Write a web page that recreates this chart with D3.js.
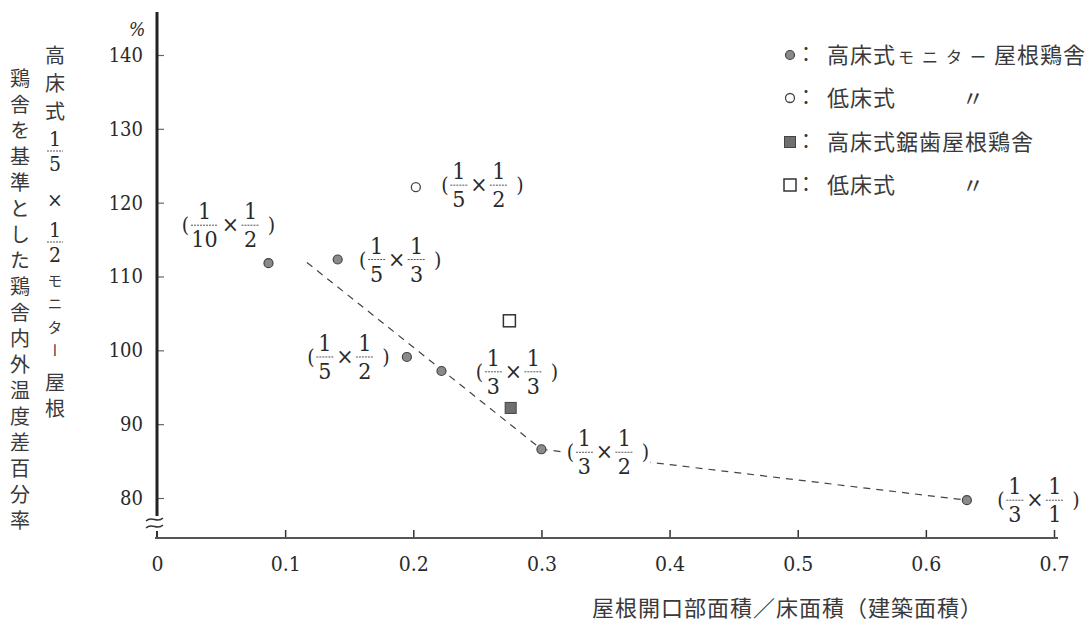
<!DOCTYPE html>
<html><head><meta charset="utf-8">
<script src="https://cdn.jsdelivr.net/npm/d3@7"></script>
<style>
body{margin:0;background:#fff;}
svg{display:block;background:#fff;}
</style></head><body>
<svg id="c" width="1085" height="623"></svg>
<script>
// ---- data ----
const xTicks = [0, 0.1, 0.2, 0.3, 0.4, 0.5, 0.6, 0.7];
const xTickLabels = ["0", "0.1", "0.2", "0.3", "0.4", "0.5", "0.6", "0.7"];
const yTicks = [80, 90, 100, 110, 120, 130, 140];
const highMonitorX = [0.087, 0.141, 0.195, 0.222, 0.300, 0.632];
const highMonitorY = [111.8, 112.3, 99.1, 97.2, 86.6, 79.7];
const lowMonitorX = [0.202];
const lowMonitorY = [122.1];
const highSawX = [0.276];
const highSawY = [92.2];
const lowSawX = [0.275];
const lowSawY = [104.0];
const trendX = [0.117, 0.300, 0.632];
const trendY = [111.9, 86.6, 79.7];
const labelFracs = [["1","10","1","2"],["1","5","1","3"],["1","5","1","2"],["1","3","1","3"],["1","3","1","2"],["1","3","1","1"],["1","5","1","2"]];
const legendSymbols = ["dot", "circle", "fsquare", "square"];
const legendTexts = ["高床式モニター屋根鶏舎", "低床式", "高床式鋸歯屋根鶏舎", "低床式"];
const xTitle = "屋根開口部面積／床面積（建築面積）";

const SERIF = "'DejaVu Serif Condensed', 'DejaVu Serif', serif";
const JP = "'Noto Sans CJK JP', 'Noto Sans CJK SC', sans-serif";

// ---- scales ----
const svg = d3.select("#c");
const x = d3.scaleLinear().domain([0, 0.7]).range([157, 1054]);
const y = d3.scaleLinear().domain([80, 140]).range([498, 55]);
const X0 = x(0), Y0 = 538;

function ntext(g, xx, yy, s, size, anchor) {
  return g.append("text").attr("x", xx).attr("y", yy).attr("text-anchor", anchor || "middle")
    .style("font-family", SERIF).style("font-stretch", "condensed")
    .style("font-size", size + "px").style("fill", "#2a2a2a").text(s);
}
function jtext(g, xx, yy, s, size) {
  return g.append("text").attr("x", xx).attr("y", yy)
    .style("font-family", JP).style("font-size", size + "px").style("fill", "#3a3a3a").text(s);
}

// ---- axes ----
const yAx = svg.append("g").attr("transform", `translate(${X0},0)`)
  .call(d3.axisLeft(y).tickValues(yTicks).tickSize(-7).tickPadding(14));
yAx.select(".domain").remove();
yAx.selectAll(".tick line").attr("stroke", "#666").attr("stroke-width", 1.2);
yAx.selectAll(".tick text").style("font-family", SERIF).style("font-stretch", "condensed")
  .style("font-size", "20px").style("fill", "#2a2a2a");
svg.append("line").attr("x1", X0).attr("x2", X0).attr("y1", 12).attr("y2", 516)
  .attr("stroke", "#222").attr("stroke-width", 3);
svg.append("line").attr("x1", X0).attr("x2", X0).attr("y1", 531).attr("y2", Y0)
  .attr("stroke", "#333").attr("stroke-width", 2);
[519, 526].forEach(yy => {
  svg.append("path").attr("d", `M${X0-11},${yy+2} C${X0-5},${yy-4} ${X0},${yy+5} ${X0+6},${yy-1}`)
    .attr("fill", "none").attr("stroke", "#333").attr("stroke-width", 1.3);
});
ntext(svg, 137, 36, "%", 19).style("font-style", "italic");

const xAx = svg.append("g").attr("transform", `translate(0,${Y0})`)
  .call(d3.axisBottom(x).tickValues(xTicks).tickFormat((d, i) => xTickLabels[i]).tickSize(-8).tickPadding(18));
xAx.select(".domain").remove();
xAx.selectAll(".tick line").attr("stroke", "#333").attr("stroke-width", 1.5)
  .filter(d => d === 0).remove();
xAx.selectAll(".tick text").style("font-family", SERIF).style("font-stretch", "condensed")
  .style("font-size", "21px").style("fill", "#2a2a2a");
svg.append("line").attr("x1", X0 - 2).attr("x2", x(0.7) + 4).attr("y1", Y0).attr("y2", Y0)
  .attr("stroke", "#555").attr("stroke-width", 2);

jtext(svg, 592, 616, xTitle, 22).attr("letter-spacing", 1);

// ---- y title (vertical) ----
function vtext(cx, yc, size, ls, str) {
  return jtext(svg, cx, yc - size / 2, str, size).style("writing-mode", "vertical-rl").attr("letter-spacing", ls);
}
const LC = 20, RC = 55;
vtext(LC, 78, 20, 6, "鶏舎を基準とした鶏舎内外温度差百分率");
vtext(RC, 55, 20, 8, "高床式");
function vfrac(cx, bar, n, d) {
  ntext(svg, cx, bar - 5, n, 21);
  svg.append("line").attr("x1", cx - 8).attr("x2", cx + 8).attr("y1", bar).attr("y2", bar)
    .attr("stroke", "#555").attr("stroke-width", 1).attr("stroke-dasharray", "2,1");
  ntext(svg, cx, bar + 20, d, 21);
}
vfrac(RC, 151, "1", "5");
ntext(svg, RC, 207, "×", 21);
vfrac(RC, 242, "1", "2");
vtext(RC, 280, 15, 8.5, "モニター");
vtext(RC, 382, 20, 6, "屋根");

// ---- trend line ----
const line = d3.line().x(d => x(d[0])).y(d => y(d[1]));
svg.append("path").datum(trendX.map((v, i) => [v, trendY[i]])).attr("d", line)
  .attr("fill", "none").attr("stroke", "#444").attr("stroke-width", 1.2).attr("stroke-dasharray", "7,6");

// ---- markers ----
function marker(g, type, cx, cy) {
  if (type === "dot") g.append("circle").attr("cx", cx).attr("cy", cy).attr("r", 4.5)
    .attr("fill", "#8a8a8a").attr("stroke", "#444").attr("stroke-width", 1.2);
  if (type === "circle") g.append("circle").attr("cx", cx).attr("cy", cy).attr("r", 4.5)
    .attr("fill", "#fff").attr("stroke", "#444").attr("stroke-width", 1.3);
  if (type === "fsquare") g.append("rect").attr("x", cx - 5.5).attr("y", cy - 5.5).attr("width", 11).attr("height", 11)
    .attr("fill", "#6f6f6f").attr("stroke", "#444").attr("stroke-width", 1);
  if (type === "square") g.append("rect").attr("x", cx - 6).attr("y", cy - 6).attr("width", 12).attr("height", 12)
    .attr("fill", "#fff").attr("stroke", "#333").attr("stroke-width", 1.5);
}
const pts = svg.append("g");
highMonitorX.forEach((v, i) => marker(pts, "dot", x(v), y(highMonitorY[i])));
lowMonitorX.forEach((v, i) => marker(pts, "circle", x(v), y(lowMonitorY[i])));
highSawX.forEach((v, i) => marker(pts, "fsquare", x(v), y(highSawY[i])));
lowSawX.forEach((v, i) => marker(pts, "square", x(v), y(lowSawY[i])));

// ---- fraction labels ----
function fracLabel(L, bar, f, bg) {
  const g = svg.append("g");
  const two = f[1].length > 1;
  const w1 = two ? 25 : 15;
  const c1 = L + (two ? 22 : 17);
  const cx = c1 + (two ? 26 : 20);
  const c2 = cx + 20;
  const R = c2 + 21;
  if (bg) g.append("rect").attr("x", L - 3).attr("y", bar - 26).attr("width", R - L + 8).attr("height", 52).attr("fill", "#fff");
  ntext(g, L + 3, bar + 7, "(", 21);
  ntext(g, c1, bar - 6, f[0], 23); ntext(g, c1, bar + 22, f[1], 23);
  g.append("line").attr("x1", c1 - w1 / 2 - 1).attr("x2", c1 + w1 / 2 + 1).attr("y1", bar).attr("y2", bar)
    .attr("stroke", "#555").attr("stroke-width", 1).attr("stroke-dasharray", "2,1");
  ntext(g, cx, bar + 7, "×", 23);
  ntext(g, c2, bar - 6, f[2], 23); ntext(g, c2, bar + 22, f[3], 23);
  g.append("line").attr("x1", c2 - 9).attr("x2", c2 + 9).attr("y1", bar).attr("y2", bar)
    .attr("stroke", "#555").attr("stroke-width", 1).attr("stroke-dasharray", "2,1");
  ntext(g, R, bar + 7, ")", 21);
}
const P = i => [x(highMonitorX[i]), y(highMonitorY[i])];
fracLabel(P(0)[0] - 86, P(0)[1] - 38, labelFracs[0]);
fracLabel(P(1)[0] + 22, P(1)[1], labelFracs[1]);
fracLabel(P(2)[0] - 99, P(2)[1], labelFracs[2]);
fracLabel(x(lowSawX[0]) - 33, y(lowSawY[0]) + 51, labelFracs[3]);
fracLabel(P(4)[0] + 26, P(4)[1] + 3, labelFracs[4], true);
fracLabel(P(5)[0] + 31, P(5)[1], labelFracs[5]);
fracLabel(x(lowMonitorX[0]) + 26, y(lowMonitorY[0]) - 2, labelFracs[6]);

// ---- legend ----
const legRows = [55, 98, 142, 185];
legendSymbols.forEach((s, i) => {
  marker(svg, s, 790, legRows[i]);
  jtext(svg, 806, legRows[i] + 7, "：", 20).attr("text-anchor", "middle");
});
const t0 = jtext(svg, 827, legRows[0] + 8, "", 22);
t0.append("tspan").attr("letter-spacing", 1).text(legendTexts[0].slice(0, 3));
t0.append("tspan").style("font-size", "16px").attr("dx", 2).attr("letter-spacing", 8).text(legendTexts[0].slice(3, 7));
t0.append("tspan").attr("letter-spacing", 1).text(legendTexts[0].slice(7));
[1, 2, 3].forEach(i => {
  jtext(svg, 827, legRows[i] + 8, legendTexts[i], 22).attr("letter-spacing", 1);
});
[1, 3].forEach(i => {
  jtext(svg, 962, legRows[i] + 8, "〃", 22);
});
</script></body></html>
